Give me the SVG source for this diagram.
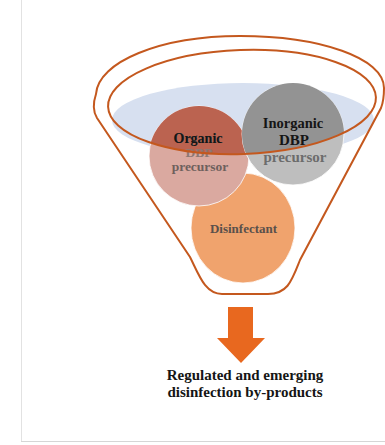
<svg xmlns="http://www.w3.org/2000/svg" width="385" height="445" viewBox="0 0 385 445">
  <style>
    .rim { fill: none; stroke: #c4581e; stroke-width: 2; }
    .lbl { font-family: "Liberation Serif", "Times New Roman", serif; font-weight: bold; text-anchor: middle; }
    .dark { fill: #151515; }
    .circ { stroke: #ffffff; stroke-width: 1; stroke-opacity: 0.8; }
  </style>
  <defs>
    <clipPath id="inner">
      <ellipse cx="242" cy="102" rx="134" ry="52" transform="rotate(-2 242 102)"/>
    </clipPath>
  </defs>
  <rect width="385" height="445" fill="#ffffff"/>
  <g id="frame">
    <line x1="21.5" y1="0" x2="21.5" y2="441.5" stroke="#e2e2e2" stroke-width="1"/>
    <line x1="21" y1="441.5" x2="385" y2="441.5" stroke="#d6d6d6" stroke-width="1"/>
  </g>
  <g id="liquid">
    <ellipse cx="243" cy="120" rx="131" ry="37" fill="#d7e0f0"/>
  </g>
  <g id="disinfectant">
    <ellipse class="circ" cx="243" cy="228" rx="52" ry="55" fill="#f0a36d"/>
    <text class="lbl" x="243.5" y="233" font-size="13" fill="#5a504b">Disinfectant</text>
  </g>
  <g id="organic">
    <circle class="circ" cx="199" cy="156" r="50" fill="#daa9a0"/>
    <circle cx="199" cy="156" r="50" fill="#bb6350" clip-path="url(#inner)"/>
    <text class="lbl" x="198" y="143" font-size="14" fill="#6e6260">Organic</text>
    <text class="lbl dark" x="198" y="143" font-size="14" clip-path="url(#inner)">Organic</text>
    <text class="lbl" x="199" y="157" font-size="13.5" fill="#8d7873">DBP</text>
    <text class="lbl" x="200" y="171" font-size="13.5" fill="#6e605d">precursor</text>
  </g>
  <g id="inorganic">
    <circle class="circ" cx="293" cy="134" r="51" fill="#bebebe"/>
    <circle cx="293" cy="134" r="51" fill="#939393" clip-path="url(#inner)"/>
    <text class="lbl dark" x="293" y="128" font-size="14.5">Inorganic</text>
    <text class="lbl dark" x="294" y="145" font-size="15">DBP</text>
    <text class="lbl" x="295" y="162" font-size="15" fill="#6c6c6c">precursor</text>
  </g>
  <g id="funnel">
    <path class="rim" d="M 190,257 L 97,118 C 92,110 94,100 96,94 C 98,62 160,36 240,36 C 320,36 384,58 384,88 C 384,96 383,103 381,108 L 300,260 C 292,280 288,294 268,294 L 222,294 C 205,294 199,275 190,257 Z"/>
    <ellipse class="rim" cx="242" cy="102" rx="134" ry="52" transform="rotate(-2 242 102)"/>
  </g>
  <g id="connectors">
    <path d="M 228,307 L 253,307 L 253,338 L 265,338 L 241,363 L 217,338 L 228,338 Z" fill="#e8681f"/>
  </g>
  <g id="output">
    <text class="lbl dark" x="245" y="380" font-size="15">Regulated and emerging</text>
    <text class="lbl dark" x="245" y="397" font-size="15">disinfection by-products</text>
  </g>
</svg>
